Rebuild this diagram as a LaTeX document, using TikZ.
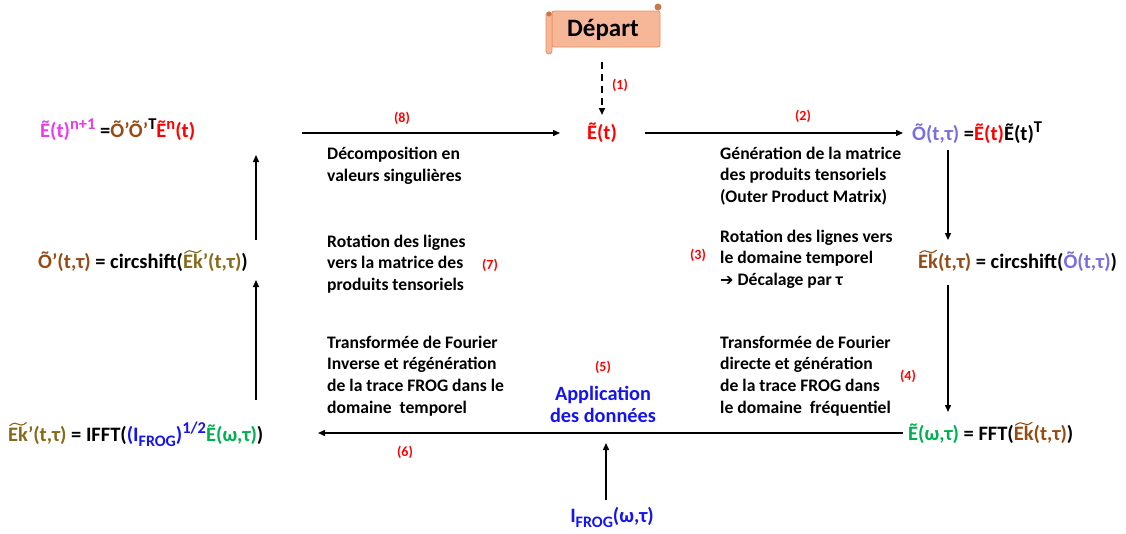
\documentclass[tikz,border=0pt]{standalone}
\usepackage{fontspec}
\usepackage{graphicx}
\setmainfont{Carlito}
\usetikzlibrary{arrows.meta}
\definecolor{cmag}{RGB}{235,60,235}
\definecolor{cbrown}{RGB}{150,75,20}
\definecolor{cred}{RGB}{255,0,0}
\definecolor{cpurp}{RGB}{120,110,225}
\definecolor{colive}{RGB}{135,105,25}
\definecolor{cgreen}{RGB}{0,176,80}
\definecolor{cblue}{RGB}{20,20,240}
\definecolor{scrollfill}{RGB}{246,182,152}
\definecolor{scrolldraw}{RGB}{238,140,90}
\newlength\tilw
\newlength\tilh
\newcommand\msup[1]{\raisebox{0.8ex}{\fontsize{16.5}{16.5}\selectfont #1}}
\newcommand\msub[1]{\raisebox{-0.5ex}{\fontsize{16}{16}\selectfont #1}}
\newcommand\wtil[2]{\leavevmode\setbox0\hbox{#2}\setlength\tilw{\wd0}\setlength\tilh{\ht0}%
  \rlap{\tikz[baseline=0pt]{\useasboundingbox (0pt,0pt) rectangle ({\tilw},0pt);
  \draw[#1, line width=1.1pt, line cap=round] ({0.08*\tilw},{\tilh+1.3pt}) .. controls ({0.28*\tilw},{\tilh+4.6pt}) and ({0.42*\tilw},{\tilh+3.8pt}) .. ({0.5*\tilw},{\tilh+2.7pt}) .. controls ({0.58*\tilw},{\tilh+1.6pt}) and ({0.72*\tilw},{\tilh+0.8pt}) .. ({0.92*\tilw},{\tilh+4.2pt});}}%
  \box0}
\tikzset{
  txt/.style={font=\fontsize{17.6}{21.6}\selectfont\bfseries, align=left, anchor=west, inner sep=0pt},
  num/.style={font=\fontsize{14}{14}\selectfont\bfseries, text=cred, inner sep=0pt},
  frm/.style={font=\fontsize{20.5}{20.5}\selectfont\bfseries, inner sep=0pt, anchor=west},
  arr/.style={line width=1.4pt, -{Triangle[length=7pt,width=6pt]}},
}
\begin{document}
\begin{tikzpicture}[x=1pt,y=-1pt]
\useasboundingbox (0,0) rectangle (1126,533);
% scroll
\draw[draw=scrolldraw, fill=scrollfill, line width=0.8pt, rounded corners=2pt] (552,11) rectangle (660,47);
\draw[draw=scrolldraw, fill=scrollfill, line width=0.8pt, rounded corners=3pt] (546,12) rectangle (552,54);
\fill[scrolldraw!85!black] (658,7) circle (3.5);
\fill[scrolldraw!85!black] (549,14) circle (2.5);
\node[font=\fontsize{25}{25}\selectfont\bfseries, inner sep=0pt] (dep) at (603,30) {Départ};

% formulas
\node[frm, text=cred, anchor=center] (Et) at (602,133) {Ẽ(t)};
\node[frm] (L1) at (40,130) {{\color{cmag}Ẽ(t)\msup{n+1}} ={\color{cbrown}Õ’Õ’}\msup{T}{\color{cred}Ẽ\msup{n}(t)}};
\node[frm] (R1) at (912,133) {{\color{cpurp}Õ(t,τ)} ={\color{cred}Ẽ(t)}Ẽ(t)\msup{T}};
\node[frm] (L2) at (38,262) {{\color{cbrown}Õ’(t,τ)} = circshift({\color{colive}\wtil{colive}{Ek}’(t,τ)})};
\node[frm] (R2) at (918,262) {{\color{cbrown}\wtil{cbrown}{Ek}(t,τ)} = circshift({\color{cpurp}Õ(t,τ)})};
\node[frm] (R3) at (908,434) {{\color{cgreen}Ẽ(ω,τ)} = FFT({\color{cbrown}\wtil{cbrown}{Ek}(t,τ)})};
\node[frm] (L3) at (8,434) {{\color{colive}\wtil{colive}{Ek}’(t,τ)} = IFFT({\color{cblue}(I\msub{FROG})\msup{1/2}}{\color{cgreen}Ẽ(ω,τ)})};
\node[frm, anchor=center, text=cblue] (IF) at (612,517) {I\msub{FROG}(ω,τ)};

% texts
\node[txt] (tA) at (327,166) {Décomposition en\\valeurs singulières};
\node[txt] (tB) at (720,176) {Génération de la matrice\\des produits tensoriels\\(Outer Product Matrix)};
\node[txt] (tC) at (327,264) {Rotation des lignes\\vers la matrice des\\produits tensoriels};
\node[txt] (tD) at (720,259) {Rotation des lignes vers\\le domaine temporel\\{\fontspec{DejaVu Sans}\bfseries\fontsize{16}{16}\selectfont ➔} Décalage par τ};
\node[txt] (tF) at (327,376) {Transformée de Fourier\\Inverse et régénération\\de la trace FROG dans le\\domaine~ temporel};
\node[txt] (tG) at (720,376) {Transformée de Fourier\\directe et génération\\de la trace FROG dans\\le domaine~ fréquentiel};
\node[txt, align=center, anchor=center, text=cblue, font=\fontsize{20.3}{22}\selectfont\bfseries] (tH) at (603,404) {Application\\des données};

% numbers
\node[num] (n8) at (402,118) {(8)};
\node[num] (n2) at (803,116) {(2)};
\node[num] (n1) at (620,85) {(1)};
\node[num] (n7) at (490,265) {(7)};
\node[num] (n3) at (698,255) {(3)};
\node[num] (n5) at (603,367) {(5)};
\node[num] (n4) at (908,376) {(4)};
\node[num] (n6) at (405,452) {(6)};

% arrow ends
\coordinate (d1) at (602,62);  \coordinate (d2) at (602,115);
\coordinate (a8s) at (302,133); \coordinate (a8e) at (560,133);
\coordinate (a2s) at (645,133); \coordinate (a2e) at (903,133);
\coordinate (r1s) at (948,150); \coordinate (r1e) at (948,240);
\coordinate (r2s) at (948,285); \coordinate (r2e) at (948,412);
\coordinate (b1s) at (903,433); \coordinate (b1e) at (318,433);
\coordinate (l1s) at (256,400); \coordinate (l1e) at (256,280);
\coordinate (l2s) at (256,240); \coordinate (l2e) at (256,155);
\coordinate (u1s) at (606,500); \coordinate (u1e) at (606,443);

\draw[arr, line width=1.8pt, dash pattern=on 7pt off 5pt] (d1) -- (d2);
\draw[arr] (a8s) -- (a8e);
\draw[arr] (a2s) -- (a2e);
\draw[arr] (r1s) -- (r1e);
\draw[arr] (r2s) -- (r2e);
\draw[arr] (b1s) -- (b1e);
\draw[arr] (l1s) -- (l1e);
\draw[arr] (l2s) -- (l2e);
\draw[arr] (u1s) -- (u1e);
\end{tikzpicture}
\end{document}
